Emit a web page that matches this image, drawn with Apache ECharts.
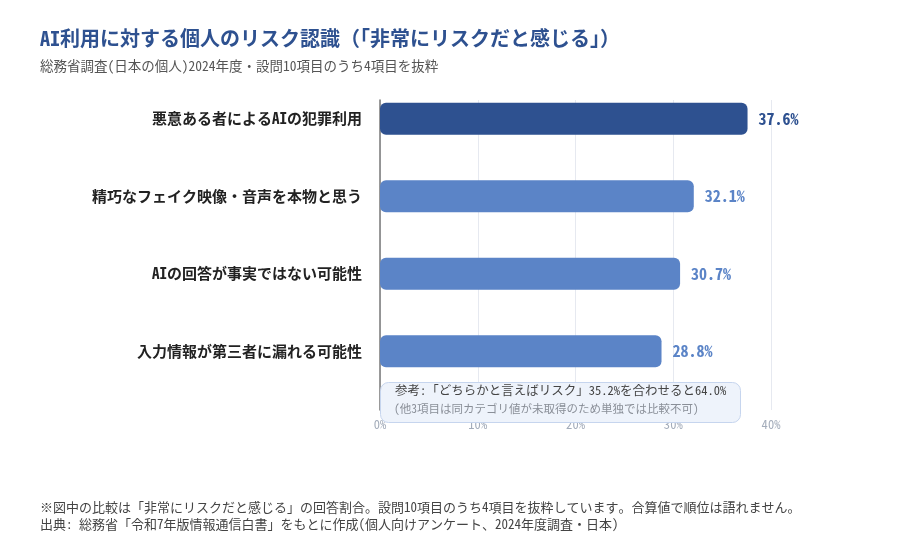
<!DOCTYPE html>
<html>
<head>
<meta charset="utf-8">
<script src="https://cdn.jsdelivr.net/npm/echarts@6/dist/echarts.min.js"></script>
<style>
  html, body { margin: 0; padding: 0; background: #fff; }
  #main { width: 900px; height: 560px; }
</style>
</head>
<body>
<div id="main"></div>
<script>
const FONT = "'Noto Sans Mono CJK JP', 'Noto Sans CJK JP', monospace";

const categories = [
  '悪意ある者によるAIの犯罪利用',
  '精巧なフェイク映像・音声を本物と思う',
  'AIの回答が事実ではない可能性',
  '入力情報が第三者に漏れる可能性'
];
const values = [37.6, 32.1, 30.7, 28.8];
const xTicks = [0, 10, 20, 30, 40];
const barColors = ['#2e5190', '#5b84c7', '#5b84c7', '#5b84c7'];
const labelColors = ['#2e5190', '#5b84c7', '#5b84c7', '#5b84c7'];

const chart = echarts.init(document.getElementById('main'));

const option = {
  backgroundColor: '#fff',
  textStyle: { fontFamily: FONT },
  title: {
    text: 'AI利用に対する個人のリスク認識（「非常にリスクだと感じる」）',
    subtext: '総務省調査(日本の個人)2024年度・設問10項目のうち4項目を抜粋',
    left: 35,
    top: 23,
    itemGap: 11,
    textStyle: { fontFamily: FONT, fontSize: 20, fontWeight: 'bold', color: '#2e5190' },
    subtextStyle: { fontFamily: FONT, fontSize: 13.5, color: '#555' }
  },
  grid: { left: 380, right: 129, top: 100, bottom: 150 },
  xAxis: {
    type: 'value',
    min: xTicks[0],
    max: xTicks[xTicks.length - 1],
    interval: 10,
    axisLine: { show: false },
    axisTick: { show: false },
    axisLabel: { formatter: '{value}%', color: '#a3acba', fontSize: 12.5, fontFamily: FONT, margin: 8 },
    splitLine: { show: true, lineStyle: { color: '#e6e9f0' } }
  },
  yAxis: {
    type: 'category',
    data: categories,
    inverse: true,
    axisLine: { show: true, lineStyle: { color: '#777', width: 1.5 } },
    axisTick: { show: false },
    axisLabel: {
      interval: 0,
      hideOverlap: false,
      color: '#222', fontSize: 15, fontWeight: 'bold', fontFamily: FONT, margin: 18,
      lineHeight: 40,
      // empty second line lifts the label to the bar centre
      formatter: v => v + '\n '
    }
  },
  series: [
    {
      type: 'bar',
      barWidth: 32,
      barGap: '25%',
      data: values.map((v, i) => ({
        value: v,
        itemStyle: { color: barColors[i], borderRadius: 6 },
        label: { color: labelColors[i] }
      })),
      label: {
        show: true,
        position: 'right',
        distance: 11,
        formatter: p => p.value.toFixed(1) + '%',
        fontSize: 16,
        fontWeight: 'bold',
        fontFamily: FONT
      }
    },
    {
      // spacer series keeps the visible bars in the upper part of each band
      type: 'bar',
      barWidth: 32,
      data: categories.map(() => '-'),
      silent: true
    }
  ],
  graphic: [
    {
      type: 'rect',
      left: 380,
      top: 382,
      shape: { width: 360, height: 40, r: 8 },
      style: { fill: '#eef3fb', stroke: '#c6d5ee', lineWidth: 1 },
      z: 100
    },
    {
      type: 'text',
      left: 395,
      top: 384,
      style: {
        text: '参考:「どちらかと言えばリスク」35.2%を合わせると64.0%',
        fill: '#444',
        font: '12.5px ' + FONT
      },
      z: 101
    },
    {
      type: 'text',
      left: 394,
      top: 403,
      style: {
        text: '(他3項目は同カテゴリ値が未取得のため単独では比較不可)',
        fill: '#8a8f98',
        font: '11.5px ' + FONT
      },
      z: 101
    },
    {
      type: 'text',
      left: 40,
      top: 501,
      style: {
        text: '※図中の比較は「非常にリスクだと感じる」の回答割合。設問10項目のうち4項目を抜粋しています。合算値で順位は語れません。',
        fill: '#444',
        font: '13px ' + FONT
      }
    },
    {
      type: 'text',
      left: 40,
      top: 518,
      style: {
        text: '出典: 総務省「令和7年版情報通信白書」をもとに作成(個人向けアンケート、2024年度調査・日本)',
        fill: '#444',
        font: '13px ' + FONT
      }
    }
  ]
};

chart.setOption(option);
</script>
</body>
</html>
